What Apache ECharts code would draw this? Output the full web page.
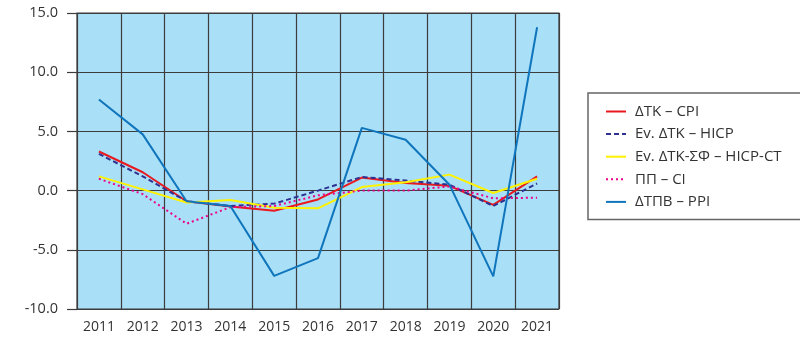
<!DOCTYPE html>
<html>
<head>
<meta charset="utf-8">
<script src="https://cdn.jsdelivr.net/npm/echarts@6/dist/echarts.min.js"></script>
<style>
  html, body { margin: 0; padding: 0; background: #fff; }
  #chart { width: 800px; height: 342px; }
</style>
</head>
<body>
<div id="chart"></div>
<script>
// Annual rates of change, 2011–2021
const years = ['2011','2012','2013','2014','2015','2016','2017','2018','2019','2020','2021'];
const cpi    = [3.3, 1.55, -0.9, -1.35, -1.7, -0.75, 1.1, 0.65, 0.4, -1.2, 1.2];
const hicp   = [3.1, 1.2, -0.9, -1.3, -1.1, 0.0, 1.15, 0.85, 0.5, -1.3, 0.6];
const hicpCt = [1.2, 0.1, -1.0, -0.8, -1.45, -1.5, 0.3, 0.7, 1.35, -0.2, 1.0];
const ci     = [1.0, -0.3, -2.8, -1.4, -1.3, -0.4, 0.0, 0.0, 0.35, -0.65, -0.6];
const ppi    = [7.7, 4.75, -0.9, -1.3, -7.2, -5.7, 5.3, 4.3, 0.5, -7.25, 13.8];
const seriesNames = ['ΔΤΚ – CPI', 'Ev. ΔΤΚ – HICP', 'Ev. ΔΤΚ-ΣΦ – HICP-CT', 'ΠΠ – CI', 'ΔΤΠΒ – PPI'];

const font = '"Open Sans", "DejaVu Sans", sans-serif';
const gridColor = '#3c3c3c';

function line(name, data, color, type) {
  return {
    name, type: 'line', data, symbol: 'none',
    lineStyle: { color, width: 2, type },
    itemStyle: { color },
    z: 3
  };
}

const chart = echarts.init(document.getElementById('chart'));
chart.setOption({
  animation: false,
  textStyle: { fontFamily: font },
  grid: {
    left: 77, right: 241, top: 13, bottom: 33,
    show: true, backgroundColor: '#a9dff7', borderColor: gridColor, borderWidth: 1.2
  },
  xAxis: {
    type: 'category', data: years, boundaryGap: true,
    axisLine: { lineStyle: { color: gridColor, width: 1.2 } },
    axisTick: { show: false },
    splitLine: { show: true, lineStyle: { color: gridColor, width: 1.2 } },
    axisLabel: { color: '#333', fontSize: 14, margin: 11, fontFamily: font }
  },
  yAxis: {
    type: 'value', min: -10, max: 15, interval: 5,
    axisLine: { show: false },
    axisTick: { show: true, length: 10, lineStyle: { color: gridColor, width: 1.2 } },
    splitLine: { show: true, lineStyle: { color: gridColor, width: 1.2 } },
    axisLabel: { color: '#333', fontSize: 14.5, margin: 19, fontFamily: font,
      formatter: v => v.toFixed(1) }
  },
  legend: {
    orient: 'vertical', left: 588, top: 93,
    data: seriesNames,
    borderColor: '#666', borderWidth: 1.5, borderRadius: 0,
    padding: [11, 40, 10, 17],
    itemWidth: 20, itemHeight: 15, itemGap: 7.6,
    itemStyle: { opacity: 0 },
    textStyle: { color: '#333', fontSize: 15, fontFamily: font, padding: [0, 0, 0, 4] }
  },
  series: [
    line(seriesNames[0], cpi, '#e8191f', 'solid'),
    line(seriesNames[1], hicp, '#2e3192', [5, 3]),
    line(seriesNames[2], hicpCt, '#fff200', 'solid'),
    line(seriesNames[3], ci, '#ec008c', [2, 3]),
    line(seriesNames[4], ppi, '#0f75bc', 'solid')
  ]
});
</script>
</body>
</html>
